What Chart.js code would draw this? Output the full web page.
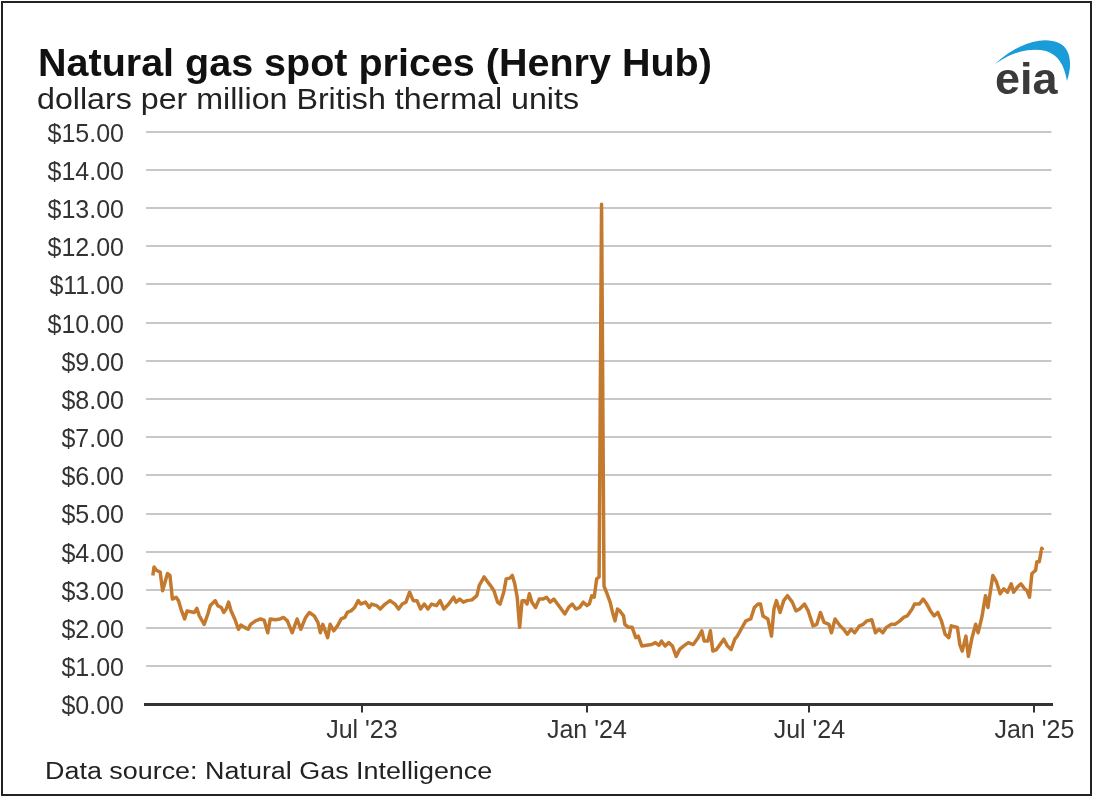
<!DOCTYPE html>
<html><head><meta charset="utf-8">
<script src="https://cdn.jsdelivr.net/npm/chart.js@4/dist/chart.umd.min.js"></script>
<style>
html,body{margin:0;padding:0;background:#fff;}
body{width:1096px;height:800px;position:relative;overflow:hidden;font-family:"Liberation Sans",Arial,sans-serif;}
#frame{position:absolute;left:1px;top:1px;width:1087px;height:791px;border:2px solid #222;}
#c{position:absolute;left:0;top:0;}
.t{position:absolute;white-space:nowrap;line-height:1;transform-origin:0 0;}
#title{left:38px;top:43px;font-size:39.5px;font-weight:bold;color:#111;}
#sub{left:37px;top:85px;font-size:29px;color:#222;transform:scaleX(1.11);}
#foot{left:45px;top:760px;font-size:23px;color:#222;transform:scaleX(1.17);}
#logo{position:absolute;left:0;top:0;}
</style></head>
<body>
<div id="frame"></div>
<canvas id="c" width="1096" height="800"></canvas>
<div class="t" id="title">Natural gas spot prices (Henry Hub)</div>
<div class="t" id="sub">dollars per million British thermal units</div>
<div class="t" id="foot">Data source: Natural Gas Intelligence</div>
<svg id="logo" width="1096" height="130" viewBox="0 0 1096 130">
  <path d="M995 64 C1014 46,1040 35,1059 43 C1070 48,1073 63,1067 81 C1064 64,1058 55,1046 51 C1030 47,1012 52,995 64 Z" fill="#1a9cd8"/>
  <text x="995" y="94" font-family="Liberation Sans, Arial, sans-serif" font-weight="bold" font-size="45" fill="#3a3a3a">eia</text>
</svg>
<script>
// Henry Hub spot price, dollars per MMBtu
const dates = [
 '2023-01-11','2023-01-12','2023-01-14','2023-01-17','2023-01-19','2023-01-21','2023-01-23','2023-01-25','2023-01-27','2023-01-30',
 '2023-02-01','2023-02-03','2023-02-06','2023-02-08','2023-02-11','2023-02-14','2023-02-16','2023-02-18','2023-02-22','2023-02-25','2023-02-27',
 '2023-03-03','2023-03-05','2023-03-08','2023-03-10','2023-03-12','2023-03-14','2023-03-16','2023-03-19','2023-03-22','2023-03-24','2023-03-27','2023-03-30',
 '2023-04-01','2023-04-05','2023-04-09','2023-04-12','2023-04-15','2023-04-17','2023-04-21','2023-04-25','2023-04-28',
 '2023-05-01','2023-05-05','2023-05-09','2023-05-12','2023-05-16','2023-05-19','2023-05-23','2023-05-26','2023-05-28','2023-05-30',
 '2023-06-03','2023-06-05','2023-06-08','2023-06-11','2023-06-14','2023-06-17','2023-06-19','2023-06-22','2023-06-25','2023-06-28','2023-06-30',
 '2023-07-04','2023-07-07','2023-07-09','2023-07-13','2023-07-16','2023-07-20','2023-07-24','2023-07-28','2023-07-31',
 '2023-08-03','2023-08-06','2023-08-09','2023-08-12','2023-08-15','2023-08-18','2023-08-21','2023-08-24','2023-08-27','2023-08-31',
 '2023-09-03','2023-09-06','2023-09-10','2023-09-14','2023-09-16','2023-09-19','2023-09-22','2023-09-25','2023-09-29',
 '2023-10-03','2023-10-05','2023-10-09','2023-10-11','2023-10-14','2023-10-17','2023-10-20','2023-10-22','2023-10-25','2023-10-27','2023-10-30',
 '2023-11-01','2023-11-03','2023-11-05','2023-11-07','2023-11-09','2023-11-11','2023-11-13','2023-11-15','2023-11-17','2023-11-20','2023-11-23','2023-11-26','2023-11-29',
 '2023-12-02','2023-12-05','2023-12-08','2023-12-11','2023-12-14','2023-12-17','2023-12-20','2023-12-23','2023-12-26','2023-12-29',
 '2024-01-01','2024-01-03','2024-01-05','2024-01-07','2024-01-09','2024-01-11','2024-01-13','2024-01-15','2024-01-17','2024-01-20','2024-01-22','2024-01-24','2024-01-26','2024-01-28','2024-01-31',
 '2024-02-01','2024-02-04','2024-02-07','2024-02-10','2024-02-12','2024-02-15','2024-02-19','2024-02-23','2024-02-26','2024-02-29',
 '2024-03-02','2024-03-05','2024-03-08','2024-03-11','2024-03-14','2024-03-17','2024-03-20','2024-03-24','2024-03-28',
 '2024-04-01','2024-04-04','2024-04-06','2024-04-09','2024-04-11','2024-04-13','2024-04-16','2024-04-20','2024-04-22','2024-04-25','2024-04-28',
 '2024-05-01','2024-05-03','2024-05-07','2024-05-10','2024-05-14','2024-05-17','2024-05-20','2024-05-22','2024-05-24','2024-05-28','2024-05-31',
 '2024-06-02','2024-06-04','2024-06-07','2024-06-10','2024-06-13','2024-06-17','2024-06-20','2024-06-23','2024-06-27','2024-06-30',
 '2024-07-04','2024-07-07','2024-07-10','2024-07-13','2024-07-17','2024-07-19','2024-07-22','2024-07-26','2024-07-29',
 '2024-08-01','2024-08-04','2024-08-07','2024-08-11','2024-08-14','2024-08-17','2024-08-21','2024-08-24','2024-08-27','2024-08-30',
 '2024-09-02','2024-09-06','2024-09-09','2024-09-13','2024-09-16','2024-09-19','2024-09-23','2024-09-25','2024-09-29',
 '2024-10-02','2024-10-05','2024-10-08','2024-10-11','2024-10-14','2024-10-17','2024-10-20','2024-10-23','2024-10-25','2024-10-30',
 '2024-11-01','2024-11-03','2024-11-06','2024-11-08','2024-11-11','2024-11-14','2024-11-16','2024-11-19','2024-11-22','2024-11-24','2024-11-28',
 '2024-12-01','2024-12-04','2024-12-07','2024-12-10','2024-12-13','2024-12-15','2024-12-18','2024-12-21','2024-12-24','2024-12-26','2024-12-28','2024-12-30',
 '2025-01-02','2025-01-03','2025-01-05','2025-01-07','2025-01-08'
];
const prices = [
 3.38,3.60,3.51,3.47,2.98,3.21,3.43,3.38,2.76,2.81,
 2.72,2.50,2.24,2.45,2.43,2.41,2.52,2.32,2.10,2.37,2.59,
 2.72,2.59,2.54,2.41,2.50,2.68,2.45,2.24,1.97,2.08,2.02,1.97,
 2.10,2.19,2.24,2.21,1.88,2.24,2.22,2.24,2.28,
 2.19,1.88,2.24,1.97,2.28,2.41,2.32,2.15,1.88,2.10,
 1.75,2.10,1.93,2.06,2.24,2.28,2.41,2.45,2.54,2.72,2.63,
 2.68,2.54,2.63,2.59,2.50,2.63,2.72,2.63,2.50,
 2.63,2.68,2.94,2.72,2.72,2.50,2.63,2.50,2.63,2.59,
 2.72,2.50,2.63,2.81,2.68,2.76,2.68,2.72,2.74,
 2.85,3.12,3.34,3.25,3.12,2.98,2.68,2.63,2.94,3.29,3.31,
 3.38,3.16,2.81,2.02,2.72,2.72,2.63,2.90,2.68,2.54,2.76,2.76,2.81,
 2.68,2.76,2.63,2.50,2.37,2.54,2.63,2.50,2.54,2.68,
 2.59,2.63,2.85,2.81,3.29,3.34,13.10,3.10,2.94,2.68,2.41,2.19,2.50,2.45,2.32,
 2.10,2.02,2.02,1.75,1.79,1.53,1.55,1.57,1.62,1.55,
 1.66,1.53,1.62,1.53,1.26,1.45,1.53,1.62,1.57,
 1.75,1.93,1.66,1.66,1.93,1.40,1.44,1.62,1.71,1.53,1.44,
 1.71,1.79,2.02,2.19,2.24,2.54,2.63,2.63,2.32,2.24,1.79,
 2.50,2.72,2.41,2.72,2.85,2.68,2.45,2.50,2.63,2.45,
 2.06,2.10,2.41,2.15,2.10,1.88,2.24,2.06,1.97,
 1.84,1.97,1.88,2.06,2.10,2.19,2.22,1.88,1.97,1.88,
 2.02,2.10,2.10,2.19,2.28,2.32,2.50,2.63,2.63,
 2.76,2.63,2.45,2.32,2.41,2.19,1.84,1.75,2.06,2.02,
 1.57,1.40,1.79,1.26,1.75,2.10,1.88,2.28,2.85,2.54,3.38,
 3.21,2.90,3.03,2.94,3.16,2.94,3.07,3.16,3.03,2.98,2.81,3.43,
 3.51,3.74,3.74,4.09,4.04
];
const xTickDates = ['2023-07-01','2024-01-01','2024-07-01','2025-01-01'];
const xTickLabels = ["Jul '23","Jan '24","Jul '24","Jan '25"];
const xRange = ['2023-01-05','2025-01-15'];
const yMin = 0, yMax = 15, yStep = 1;

const BASE = Date.UTC(2023,0,1);
const dayOf = s => (Date.parse(s + 'T00:00:00Z') - BASE) / 864e5;
const points = dates.map((d,i) => ({x: dayOf(d), y: prices[i]}));
const FONT = '"Liberation Sans", Arial, sans-serif';

new Chart(document.getElementById('c'), {
  type: 'line',
  data: { datasets: [{
    data: points,
    borderColor: '#c47a2e',
    borderWidth: 3.5,
    pointRadius: 0,
    tension: 0,
    fill: false,
    borderJoinStyle: 'round'
  }]},
  options: {
    responsive: false,
    animation: false,
    layout: { padding: { top: 131.7, right: 44.5, bottom: 35.5, left: 0 } },
    plugins: { legend: {display:false}, tooltip: {enabled:false}, title:{display:false} },
    scales: {
      x: {
        type: 'linear',
        min: dayOf(xRange[0]),
        max: dayOf(xRange[1]),
        afterBuildTicks: sc => { sc.ticks = xTickDates.map(d => ({value: dayOf(d)})); },
        afterFit: sc => { sc.height = 60; },
        grid: { drawOnChartArea: false, drawTicks: true, tickLength: 8, color: '#333', lineWidth: 2 },
        border: { display: true, color: '#333', width: 3 },
        ticks: {
          autoSkip: false, maxRotation: 0, padding: 4,
          color: '#333', font: { family: FONT, size: 25 },
          callback: (v, i) => xTickLabels[i]
        }
      },
      y: {
        min: yMin, max: yMax,
        afterFit: sc => { sc.width = 145.5; },
        grid: { color: '#c8c8c8', lineWidth: 2, drawTicks: false },
        border: { display: false },
        ticks: {
          stepSize: yStep, padding: 21.5, labelOffset: 3,
          color: '#333', font: { family: FONT, size: 25 },
          callback: v => '$' + Number(v).toFixed(2)
        }
      }
    }
  }
});
</script>
</body></html>
